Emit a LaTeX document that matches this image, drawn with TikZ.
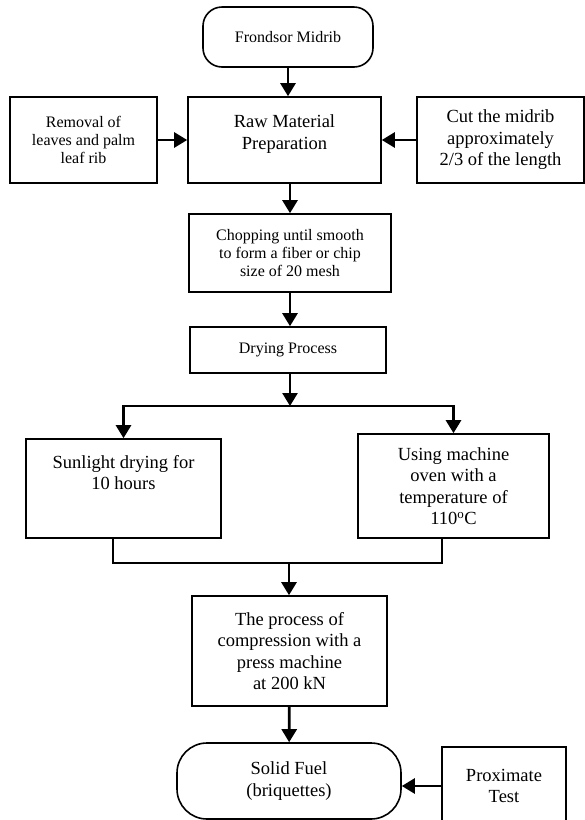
\documentclass[tikz,border=0pt]{standalone}
\usepackage{fontspec}
\setmainfont{Liberation Serif}
\usetikzlibrary{arrows.meta}
\newcommand{\bigtxt}{\fontsize{18.5}{21.5}\selectfont}
\newcommand{\smalltxt}{\fontsize{16}{18.3}\selectfont}

\begin{document}
\begin{tikzpicture}[x=1pt, y=-1pt,
	box/.style={draw, rectangle, line width=1.6pt, align=center, inner sep=0pt},
	term/.style={box, rounded corners=19pt},
	arr/.style={line width=2.6pt, -{Triangle[width=15pt,length=13pt]}},
	link/.style={line width=2pt}]
	
	\useasboundingbox (0,0) rectangle (585,820);
	
	%Blocks of the scheme
	\node (frond) at (288,37) [term, minimum width=170pt, minimum height=60pt, font=\smalltxt]{Frondsor Midrib};
	\node (raw) at (284.5,140) [box, minimum width=193pt, minimum height=86pt]{};
	\node (rawText) at (raw) [yshift=6pt, align=center, font=\bigtxt]{Raw Material\\Preparation};
	\node (removal) at (83.5,140) [box, minimum width=147pt, minimum height=86pt, font=\smalltxt]{Removal of\\leaves and palm\\leaf rib};
	\node (cut) at (500.5,140) [box, minimum width=167pt, minimum height=86pt, font=\bigtxt]{Cut the midrib\\approximately\\2/3 of the length};
	\node (chop) at (290,253) [box, minimum width=202pt, minimum height=78pt, font=\smalltxt]{Chopping until smooth\\to form a fiber or chip\\size of 20 mesh};
	\node (dry) at (288,350) [box, minimum width=196pt, minimum height=46pt, font=\smalltxt]{Drying Process};
	\node (sun) at (123.5,488.5) [box, minimum width=195pt, minimum height=99pt]{};
	\node (sunText) at (sun) [yshift=16pt, align=center, font=\bigtxt]{Sunlight drying for\\10 hours};
	\node (oven) at (453.5,486) [box, minimum width=191pt, minimum height=104pt, font=\bigtxt]{Using machine\\oven with a\\temperature of\\110\textsuperscript{o}C};
	\node (press) at (289.5,651) [box, minimum width=195pt, minimum height=110pt, font=\bigtxt]{The process of\\compression with a\\press machine\\at 200 kN};
	\node (fuel) at (289,781) [box, rounded corners=30pt, minimum width=224pt, minimum height=76pt, font=\bigtxt]{Solid Fuel\\(briquettes)};
	\node (prox) at (504,786) [box, minimum width=124pt, minimum height=78pt, font=\bigtxt]{Proximate\\Test};
	
	%Split and merge points
	\coordinate (split) at (290,406);
	\coordinate (merge) at (289,563);
	
	%Linx
	\draw[arr] (frond) -- (frond |- raw.north);
	\draw[arr] (removal) -- (raw);
	\draw[arr] (cut) -- (raw);
	\draw[arr] (raw.south -| chop) -- (chop);
	\draw[arr] (chop) -- (dry.north -| chop);
	\draw[arr] (dry.south -| split) -- (split);
	\draw[arr] (split) -| (sun);
	\draw[arr] (split) -| (oven);
	\draw[link] ([xshift=-10.5pt]sun.south) |- (merge) -| ([xshift=-11.5pt]oven.south);
	\draw[arr] (merge) -- (merge |- press.north);
	\draw[arr] (press) -- (fuel);
	\draw[arr] (prox.west) -- (prox.west -| fuel.east);
	
\end{tikzpicture}
\end{document}
